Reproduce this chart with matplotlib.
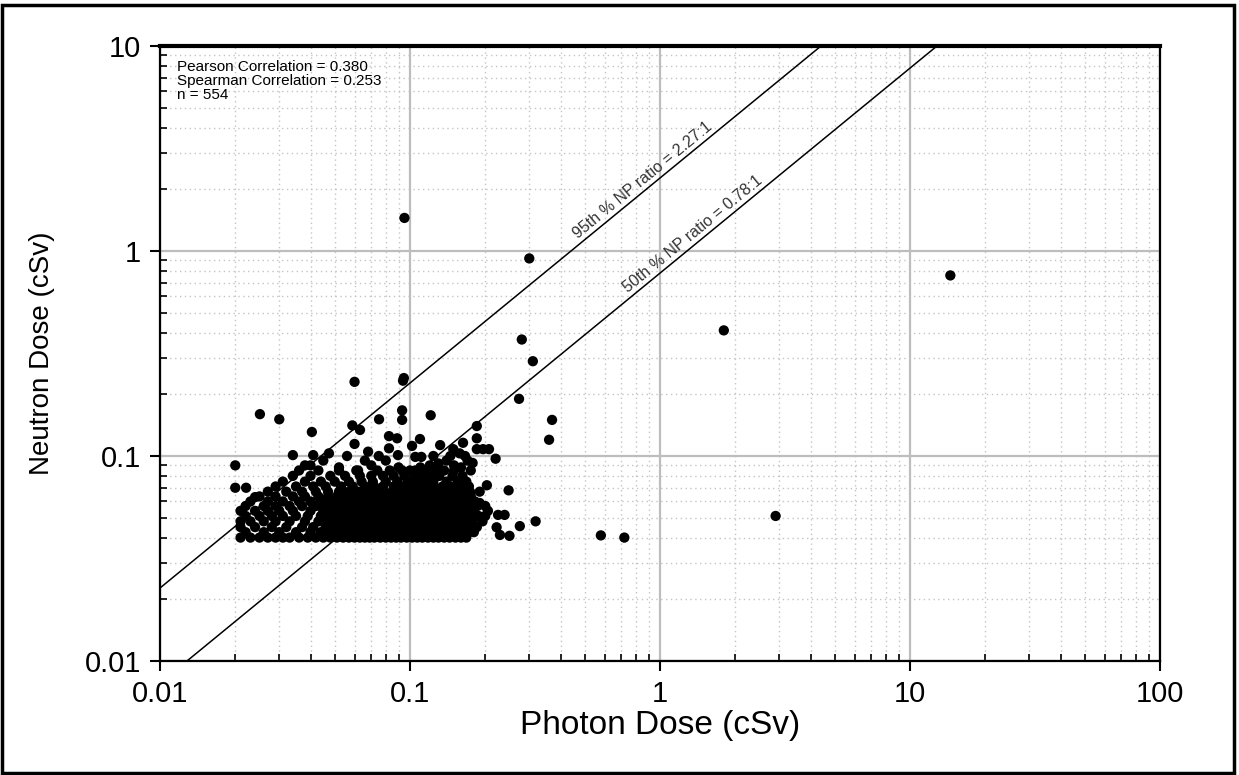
import numpy as np
import matplotlib.pyplot as plt
from matplotlib import ticker
from matplotlib.patches import Rectangle

plt.rcParams['font.family'] = ['Liberation Sans', 'DejaVu Sans']

# isolated points (photon dose, neutron dose) in cSv
photon_sparse = [0.095, 0.30, 1.8, 14.5, 2.9, 0.58, 0.72, 0.28, 0.31, 0.273,
                 0.37, 0.36, 0.318, 0.248, 0.060, 0.0938, 0.0945, 0.093, 0.093, 0.0752,
                 0.121, 0.0588, 0.0631, 0.060, 0.0824, 0.0888, 0.0824, 0.0895, 0.1019, 0.1096,
                 0.105, 0.111, 0.124, 0.132, 0.149, 0.158, 0.166, 0.163, 0.185, 0.185,
                 0.185, 0.196, 0.207, 0.22, 0.0251, 0.030, 0.0405, 0.034, 0.041, 0.0474,
                 0.020, 0.020, 0.0221, 0.024, 0.203, 0.19, 0.20, 0.174, 0.178, 0.225,
                 0.239, 0.222, 0.229, 0.25, 0.275, 0.052, 0.038, 0.045, 0.066, 0.070,
                 0.075, 0.080, 0.068, 0.056, 0.120, 0.130, 0.140, 0.150, 0.160, 0.110,
                 0.100, 0.090, 0.062, 0.170, 0.145, 0.040]
neutron_sparse = [1.45, 0.92, 0.41, 0.76, 0.051, 0.041, 0.040, 0.37, 0.29, 0.19,
                  0.15, 0.12, 0.048, 0.068, 0.23, 0.233, 0.24, 0.167, 0.150, 0.151,
                  0.158, 0.141, 0.134, 0.1145, 0.125, 0.122, 0.109, 0.101, 0.112, 0.121,
                  0.099, 0.099, 0.100, 0.113, 0.108, 0.103, 0.100, 0.116, 0.140, 0.122,
                  0.108, 0.108, 0.108, 0.097, 0.160, 0.151, 0.131, 0.101, 0.101, 0.103,
                  0.090, 0.070, 0.070, 0.063, 0.072, 0.059, 0.057, 0.0668, 0.0925, 0.0516,
                  0.0516, 0.0449, 0.0412, 0.0408, 0.0455, 0.088, 0.090, 0.095, 0.095, 0.090,
                  0.100, 0.095, 0.105, 0.100, 0.090, 0.092, 0.095, 0.090, 0.088, 0.088,
                  0.085, 0.088, 0.085, 0.095, 0.100, 0.090]

# dense cluster, read band by band (neutron level -> photon values)
band_neutron = [0.040, 0.0425, 0.045, 0.048, 0.051, 0.054, 0.057,
                0.060, 0.0635, 0.067, 0.071, 0.075, 0.080, 0.085]
band_photon = [
    [0.021, 0.023, 0.025, 0.027, 0.029, 0.031, 0.033, 0.036, 0.039, 0.042, 0.045, 0.048, 0.051,
     0.054, 0.057, 0.060, 0.063, 0.066, 0.069, 0.072, 0.076, 0.080, 0.084, 0.088, 0.092, 0.097,
     0.102, 0.107, 0.112, 0.118, 0.124, 0.130, 0.137, 0.144, 0.152, 0.160, 0.168],
    [0.022, 0.026, 0.030, 0.035, 0.040, 0.044, 0.047, 0.050, 0.053, 0.056, 0.059, 0.062, 0.065,
     0.068, 0.071, 0.075, 0.079, 0.083, 0.087, 0.091, 0.095, 0.100, 0.105, 0.110, 0.115, 0.121,
     0.127, 0.133, 0.140, 0.147, 0.155, 0.163, 0.172, 0.180],
    [0.021, 0.024, 0.028, 0.032, 0.037, 0.041, 0.046, 0.049, 0.052, 0.055, 0.058, 0.061, 0.064,
     0.067, 0.070, 0.074, 0.078, 0.082, 0.086, 0.090, 0.094, 0.099, 0.104, 0.109, 0.114, 0.120,
     0.126, 0.132, 0.139, 0.146, 0.153, 0.161, 0.170, 0.185],
    [0.021, 0.023, 0.026, 0.029, 0.033, 0.038, 0.043, 0.047, 0.050, 0.053, 0.056, 0.059, 0.062,
     0.065, 0.068, 0.072, 0.076, 0.080, 0.084, 0.088, 0.092, 0.097, 0.102, 0.107, 0.112, 0.118,
     0.124, 0.130, 0.137, 0.144, 0.151, 0.159, 0.168, 0.178, 0.195],
    [0.022, 0.025, 0.028, 0.031, 0.035, 0.039, 0.044, 0.048, 0.051, 0.054, 0.057, 0.060, 0.063,
     0.067, 0.071, 0.075, 0.079, 0.083, 0.087, 0.091, 0.096, 0.101, 0.106, 0.111, 0.117, 0.123,
     0.129, 0.136, 0.143, 0.150, 0.158, 0.166, 0.175, 0.188, 0.200],
    [0.021, 0.024, 0.027, 0.030, 0.034, 0.040, 0.045, 0.049, 0.052, 0.055, 0.058, 0.061, 0.064,
     0.068, 0.072, 0.076, 0.080, 0.084, 0.088, 0.093, 0.098, 0.103, 0.108, 0.114, 0.120, 0.126,
     0.132, 0.139, 0.146, 0.154, 0.162, 0.171, 0.180, 0.205],
    [0.022, 0.026, 0.029, 0.033, 0.037, 0.042, 0.046, 0.050, 0.054, 0.058, 0.062, 0.066, 0.070,
     0.074, 0.078, 0.082, 0.087, 0.092, 0.097, 0.102, 0.108, 0.114, 0.120, 0.127, 0.134, 0.141,
     0.149, 0.157, 0.166, 0.176, 0.186],
    [0.023, 0.027, 0.031, 0.036, 0.040, 0.044, 0.048, 0.052, 0.056, 0.060, 0.064, 0.068, 0.072,
     0.077, 0.082, 0.087, 0.092, 0.097, 0.103, 0.109, 0.115, 0.121, 0.128, 0.135, 0.143, 0.151,
     0.160, 0.170, 0.182],
    [0.025, 0.029, 0.034, 0.038, 0.043, 0.047, 0.051, 0.055, 0.060, 0.065, 0.070, 0.075, 0.080,
     0.085, 0.090, 0.096, 0.102, 0.108, 0.114, 0.121, 0.128, 0.136, 0.144, 0.153, 0.163, 0.175],
    [0.027, 0.032, 0.037, 0.042, 0.047, 0.052, 0.057, 0.062, 0.067, 0.073, 0.079, 0.085, 0.091,
     0.097, 0.104, 0.111, 0.118, 0.126, 0.134, 0.143, 0.152, 0.165, 0.190],
    [0.029, 0.035, 0.041, 0.046, 0.053, 0.059, 0.066, 0.072, 0.078, 0.086, 0.094, 0.100, 0.108,
     0.116, 0.125, 0.135, 0.145, 0.158, 0.172],
    [0.031, 0.038, 0.044, 0.050, 0.057, 0.064, 0.071, 0.080, 0.089, 0.098, 0.106, 0.115, 0.124,
     0.140, 0.155, 0.168],
    [0.034, 0.040, 0.048, 0.055, 0.063, 0.070, 0.078, 0.086, 0.095, 0.104, 0.113, 0.122, 0.131,
     0.148, 0.162],
    [0.036, 0.043, 0.052, 0.061, 0.074, 0.083, 0.093, 0.105, 0.118, 0.127, 0.137, 0.150, 0.175],
]

ratios = [2.27, 0.78]
ratio_labels = ['95th % NP ratio = 2.27:1', '50th % NP ratio = 0.78:1']
label_x = [0.48, 0.76]

stats_text = 'Pearson Correlation = 0.380\nSpearman Correlation = 0.253\nn = 554'

photon = list(photon_sparse)
neutron = list(neutron_sparse)
for level, row in zip(band_neutron, band_photon):
    photon += row
    neutron += [level] * len(row)

fig = plt.figure(figsize=(12.39, 7.75), dpi=100)
ax = fig.add_axes([160 / 1239, 1 - 661 / 775, 1000 / 1239, 615 / 775])
ax.set_xscale('log')
ax.set_yscale('log')
ax.set_xlim(0.01, 100)
ax.set_ylim(0.01, 10)

ax.grid(True, which='major', color='#bdbdbd', lw=1.6, ls='-')
ax.grid(True, which='minor', color='#c4c4c4', lw=1.0, ls=(0, (1, 2.5)))
ax.set_axisbelow(True)

ax.scatter(photon, neutron, s=55, c='black', edgecolors='none', zorder=3)

xl = np.array([0.01, 100])
for r, lab, lx in zip(ratios, ratio_labels, label_x):
    ax.plot(xl, r * xl, color='black', lw=1.1, zorder=2)
    ax.text(lx, r * lx * 1.02, lab, fontsize=11.5, color='#333333',
            rotation=39.35, rotation_mode='anchor', ha='left', va='bottom')

ax.text(0.017, 0.978, stats_text, transform=ax.transAxes, fontsize=11,
        va='top', ha='left', linespacing=1.0)

fmt = ticker.FuncFormatter(lambda v, p: f'{v:g}')
ax.xaxis.set_major_formatter(fmt)
ax.yaxis.set_major_formatter(fmt)
ax.xaxis.set_minor_formatter(ticker.NullFormatter())
ax.yaxis.set_minor_formatter(ticker.NullFormatter())
ax.tick_params(which='major', direction='out', length=7.5, width=1.5,
               labelsize=21, pad=6)
ax.tick_params(which='minor', direction='in', length=5, width=1.2)

for side in ['left', 'bottom', 'right']:
    ax.spines[side].set_linewidth(1.6)
ax.spines['top'].set_linewidth(3)

ax.set_xlabel('Photon Dose (cSv)', fontsize=24)
ax.set_ylabel('Neutron Dose (cSv)', fontsize=20)
ax.xaxis.set_label_coords(0.5, -0.08)
ax.yaxis.set_label_coords(-0.105, 0.5)

fig.patches.append(Rectangle((0.002, 0.003), 0.994, 0.99, transform=fig.transFigure,
                             fill=False, lw=2.5, edgecolor='black'))

fig.savefig('out.png', dpi=100)
